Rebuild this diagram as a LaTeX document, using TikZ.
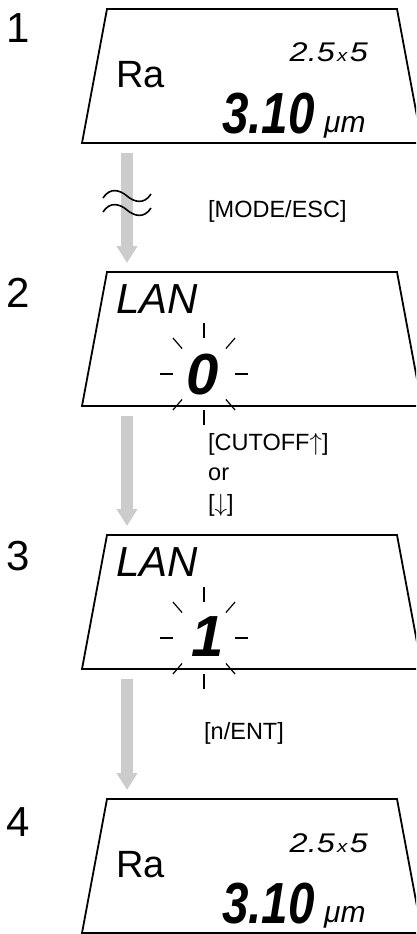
\documentclass[tikz,border=0pt]{standalone}
\usepackage{fontspec}
\setmainfont{Liberation Sans}
\usetikzlibrary{calc}
\usetikzlibrary{arrows.meta}
\definecolor{flowgray}{rgb}{0.8,0.8,0.8}

\begin{document}
\begin{tikzpicture}[x=1pt, y=-1pt,
		lcd/.style = {draw=black, line width=1.8, line join=miter},
		num/.style = {anchor=base west, inner sep=0, font=\fontsize{42}{42}\selectfont},
		ra/.style = {anchor=base west, inner sep=0, font=\fontsize{38}{38}\selectfont},
		key/.style = {anchor=west, inner sep=0, align=left, font=\fontsize{23.5}{30.5}\selectfont},
		seg/.style = {inner sep=0, font=\fontsize{58}{58}\selectfont\bfseries\itshape},
		txt/.style = {inner sep=0, font=\fontsize{42}{42}\selectfont\itshape},
		sml/.style = {inner sep=0, font=\fontsize{27}{27}\selectfont\itshape},
		f/.style = {flowgray, line width=12, -{Triangle[width=20pt, length=17pt]}},
		ray/.style = {line width=1.2}
		]
		\useasboundingbox (0,0) rectangle (416,934);
		\clip (0,0) rectangle (416,934);
		
		%Screens (top left corners)
		\coordinate	(p1)	at	(107, 9);
		\coordinate	(p2)	at	(107, 272);
		\coordinate	(p3)	at	(107, 535);
		\coordinate	(p4)	at	(107, 799);
		\foreach \p in {p1,p2,p3,p4}
			\draw[lcd] (\p) -- ++(290,0) -- ++(25,134) -- ++(-340,0) -- cycle;
		
		%Step numbers
		\node[num]	(n1)	at	($(p1)+(-101,34)$)	{1};
		\node[num]	(n2)	at	($(p2)+(-101,35)$)	{2};
		\node[num]	(n3)	at	($(p3)+(-101,35)$)	{3};
		\node[num]	(n4)	at	($(p4)+(-101,37)$)	{4};
		
		%Screen 1
		\node[ra]	(ra1)	at	($(p1)+(9,78)$)	{Ra};
		\node[sml, anchor=base east]	(cut1)	at	($(p1)+(261,53)$)	{\scalebox{1.2}[1]{2.5\kern2pt{\fontsize{17}{17}\selectfont x}\kern2pt5}};
		\node[seg, anchor=base west]	(val1)	at	($(p1)+(115,124)$)	{\scalebox{0.82}[1]{3.10}};
		\node[sml, anchor=base west, font=\fontsize{30}{30}\selectfont\itshape]	(unit1)	at	($(p1)+(217,123)$)	{μm};
		
		%Screen 2
		\node[txt, anchor=base west]	(lan2)	at	($(p2)+(9,41)$)	{LAN};
		\node[seg]	(dig2)	at	($(p2)+(96,103)$)	{0};
		\coordinate	(c2)	at	($(p2)+(97,102)$);
		\foreach \a in {0,45,...,315}
			\draw[ray] ($(c2)+(\a:31 and 36)$) -- ($(c2)+(\a:44 and 51)$);
		
		%Screen 3
		\node[txt, anchor=base west]	(lan3)	at	($(p3)+(9,41)$)	{LAN};
		\node[seg]	(dig3)	at	($(p3)+(101,102)$)	{1};
		\coordinate	(c3)	at	($(p3)+(97,103)$);
		\foreach \a in {0,45,...,315}
			\draw[ray] ($(c3)+(\a:31 and 36)$) -- ($(c3)+(\a:44 and 51)$);
		
		%Screen 4
		\node[ra]	(ra4)	at	($(p4)+(9,78)$)	{Ra};
		\node[sml, anchor=base east]	(cut4)	at	($(p4)+(261,53)$)	{\scalebox{1.2}[1]{2.5\kern2pt{\fontsize{17}{17}\selectfont x}\kern2pt5}};
		\node[seg, anchor=base west]	(val4)	at	($(p4)+(115,124)$)	{\scalebox{0.82}[1]{3.10}};
		\node[sml, anchor=base west, font=\fontsize{30}{30}\selectfont\itshape]	(unit4)	at	($(p4)+(217,123)$)	{μm};
		
		%Arrows
		\draw[f]	($(p1)+(20,144)$)	--	($(p2)+(20,-9)$);
		\draw[f]	($(p2)+(20,144)$)	--	($(p3)+(20,-9)$);
		\draw[f]	($(p3)+(20,144)$)	--	($(p4)+(20,-9)$);
		
		%Break mark
		\draw[line width=1.6]	(103,198) .. controls (110,187) and (120,190) .. (127,196) .. controls (134,202) and (144,205) .. (151,194);
		\draw[line width=1.6]	(103,212) .. controls (110,201) and (120,204) .. (127,210) .. controls (134,216) and (144,219) .. (151,208);
		
		%Keys
		\node[key]	(k1)	at	(208, 211)	{[MODE/ESC]};
		\node[key, anchor=north west]	(k2)	at	(208, 433)	{[CUTOFF$\uparrow$]\\or\\{}[$\downarrow$]};
		\node[key]	(k3)	at	(204, 733)	{[n/ENT]};
	\end{tikzpicture}
\end{document}
